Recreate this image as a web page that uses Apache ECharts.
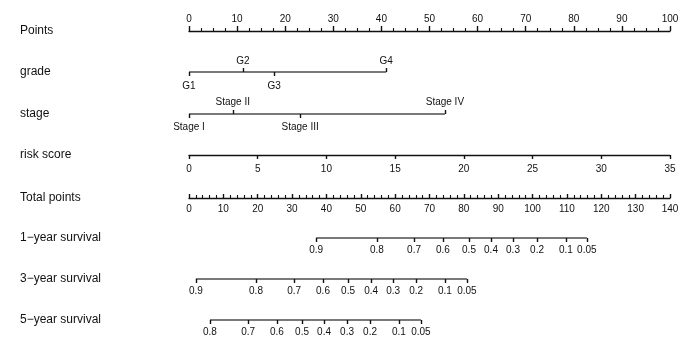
<!DOCTYPE html>
<html>
<head>
<meta charset="utf-8">
<script src="https://cdn.jsdelivr.net/npm/echarts@6/dist/echarts.min.js"></script>
<style>html,body{margin:0;padding:0;background:#fff}#c{width:700px;height:344px}</style>
</head>
<body>
<div id="c"></div>
<script>
// ---- data ----
var rowNames = ['Points', 'grade', 'stage', 'risk score', 'Total points', '1\u2212year survival', '3\u2212year survival', '5\u2212year survival'];
var gradeLabels = ['G1', 'G2', 'G3', 'G4'];
var gradePoints = [0, 11.2, 17.7, 41.0];
var stageLabels = ['Stage I', 'Stage II', 'Stage III', 'Stage IV'];
var stagePoints = [0, 9.1, 23.1, 53.2];
var survLabels1 = ['0.9', '0.8', '0.7', '0.6', '0.5', '0.4', '0.3', '0.2', '0.1', '0.05'];
var survTotal1 = [37.0, 54.7, 65.5, 73.9, 81.5, 87.9, 94.3, 101.3, 109.7, 115.8];
var survLabels3 = ['0.9', '0.8', '0.7', '0.6', '0.5', '0.4', '0.3', '0.2', '0.1', '0.05'];
var survTotal3 = [2.0, 19.5, 30.6, 39.0, 46.3, 53.0, 59.4, 66.1, 74.5, 80.9];
var survLabels5 = ['0.8', '0.7', '0.6', '0.5', '0.4', '0.3', '0.2', '0.1', '0.05'];
var survTotal5 = [6.1, 17.2, 25.6, 32.9, 39.3, 46.0, 52.7, 61.1, 67.5];
var pointsRange = [0, 100];
var riskRange = [0, 35];
var totalRange = [0, 140];

// ---- layout ----
var FONT = "'Liberation Sans', Arial, Helvetica, sans-serif";
var INK = '#111';
var LW = 1.4;
var rowY = [31, 72, 114, 155, 198, 238, 279, 320];
var LEFT = 189, RIGHT = 30;

var grids = [], xAxes = [], yAxes = [], series = [];

function lookup(vals, labels) {
  return function (v) {
    for (var i = 0; i < vals.length; i++) if (Math.abs(vals[i] - v) < 1e-6) return labels[i];
    return '';
  };
}
function addRow(i) {
  grids.push({ left: LEFT, right: RIGHT, top: rowY[i], height: 0 });
  yAxes.push({
    gridIndex: i, type: 'category', data: [rowNames[i]],
    axisLine: { show: false }, axisTick: { show: false }, splitLine: { show: false },
    axisLabel: { margin: LEFT - 20, align: 'left', color: INK, fontSize: 12, fontFamily: FONT, padding: [2, 0, 0, 0] }
  });
}
function baseAxis(gi, pos, min, max) {
  return {
    gridIndex: gi, type: 'value', position: pos, min: min, max: max,
    splitLine: { show: false },
    axisLine: { show: true, lineStyle: { color: INK, width: LW } },
    axisTick: { show: true, length: 4, lineStyle: { color: INK, width: LW } },
    axisLabel: { color: INK, fontSize: 10, fontFamily: FONT, margin: 6 }
  };
}
function segment(xi, yi, a, b) {
  series.push({
    type: 'line', xAxisIndex: xi, yAxisIndex: yi, symbol: 'none', silent: true,
    lineStyle: { color: INK, width: LW }, data: [[a, 0], [b, 0]]
  });
}
function customAxis(gi, pos, min, max, vals, labels, margin) {
  var ax = baseAxis(gi, pos, min, max);
  ax.axisLine = { show: false };
  ax.axisTick.customValues = vals;
  ax.axisLabel.customValues = vals;
  ax.axisLabel.formatter = lookup(vals, labels);
  ax.axisLabel.margin = margin;
  ax.axisLabel.showMinLabel = true;
  ax.axisLabel.showMaxLabel = true;
  return ax;
}

for (var i = 0; i < rowNames.length; i++) addRow(i);

// Points (row 0)
var ax0 = baseAxis(0, 'top', pointsRange[0], pointsRange[1]);
ax0.interval = 10; ax0.axisTick.length = 5;
ax0.minorTick = { show: true, splitNumber: 4, length: 3, lineStyle: { color: INK, width: 1.1 } };
ax0.axisLabel.margin = 7;
xAxes.push(ax0);

// grade / stage: labels alternate above and below
function catRow(gi, pts, labs, mTop, mBot) {
  var topV = [], topL = [], botV = [], botL = [];
  for (var k = 0; k < pts.length; k++) {
    if (k % 2 === 1) { topV.push(pts[k]); topL.push(labs[k]); }
    else { botV.push(pts[k]); botL.push(labs[k]); }
  }
  var idxTop = xAxes.length;
  xAxes.push(customAxis(gi, 'top', pointsRange[0], pointsRange[1], topV, topL, mTop));
  xAxes.push(customAxis(gi, 'bottom', pointsRange[0], pointsRange[1], botV, botL, mBot));
  segment(idxTop, gi, pts[0], pts[pts.length - 1]);
}
catRow(1, gradePoints, gradeLabels, 6, 9);
catRow(2, stagePoints, stageLabels, 7, 8);

// risk score (row 3)
var ax3 = baseAxis(3, 'bottom', riskRange[0], riskRange[1]);
ax3.interval = 5; ax3.axisLabel.margin = 9;
xAxes.push(ax3);

// Total points (row 4)
var ax4 = baseAxis(4, 'bottom', totalRange[0], totalRange[1]);
ax4.interval = 10; ax4.axisTick.inside = true; ax4.axisTick.length = 4;
ax4.minorTick = { show: true, splitNumber: 5, length: 3, lineStyle: { color: INK, width: 1.1 } };
ax4.axisLabel.margin = 6;
xAxes.push(ax4);

// survival rows
function survRow(gi, vals, labs) {
  var idx = xAxes.length;
  xAxes.push(customAxis(gi, 'bottom', totalRange[0], totalRange[1], vals, labs, 7));
  segment(idx, gi, vals[0], vals[vals.length - 1]);
}
survRow(5, survTotal1, survLabels1);
survRow(6, survTotal3, survLabels3);
survRow(7, survTotal5, survLabels5);

var chart = echarts.init(document.getElementById('c'), null, { renderer: 'canvas' });
chart.setOption({
  animation: false,
  backgroundColor: '#fff',
  grid: grids, xAxis: xAxes, yAxis: yAxes, series: series
});
</script>
</body>
</html>
